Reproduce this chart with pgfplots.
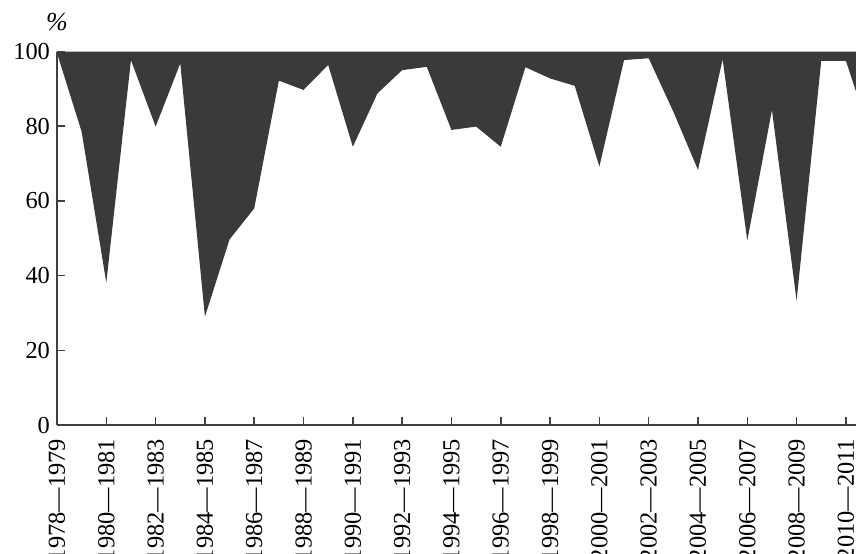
\documentclass[border=0pt]{standalone}
\usepackage{fontspec}
\setmainfont{Liberation Serif}
\usepackage{pgfplots}
\pgfplotsset{compat=1.18}
\definecolor{areagray}{HTML}{3A3A3A}
\definecolor{axisgray}{HTML}{404040}
\begin{document}
\begin{tikzpicture}
\useasboundingbox (-28.5pt,-64pt) rectangle (399.5pt,212.5pt);
\clip (-28.5pt,-64pt) rectangle (399.5pt,212.5pt);
\begin{axis}[
  scale only axis,
  width=399.5pt, height=186.75pt,
  xmin=0, xmax=32.41, ymin=0, ymax=100,
  axis lines*=left,
  axis on top,
  axis line style={axisgray, line width=0.75pt},
  tick style={axisgray, line width=0.75pt},
  tick align=inside,
  major tick length=4pt,
  xtick={0,2,...,32},
  xticklabels={1978---1979,1980---1981,1982---1983,1984---1985,1986---1987,1988---1989,1990---1991,1992---1993,1994---1995,1996---1997,1998---1999,2000---2001,2002---2003,2004---2005,2006---2007,2008---2009,2010---2011},
  xticklabel style={yshift=-3.5pt, rotate=90, anchor=east, font=\fontsize{12.2}{14}\selectfont},
  ytick={0,20,...,100},
  yticklabel style={font=\fontsize{12.2}{14}\selectfont},
  /pgf/number format/assume math mode=true,
]
\addplot[fill=areagray, draw=none] coordinates {
  (0,100) (0,99.6) (1,78.5) (2,38.1) (3,97.7) (4,79.9) (5,96.8) (6,29.0)
  (7,49.7) (8,58.0) (9,92.2) (10,89.7) (11,96.4) (12,74.5) (13,88.8)
  (14,95.0) (15,95.9) (16,79.0) (17,79.9) (18,74.5) (19,95.8) (20,92.8)
  (21,90.8) (22,69.2) (23,97.7) (24,98.2) (25,83.9) (26,68.3) (27,97.9)
  (28,49.4) (29,84.3) (30,33.3) (31,97.5) (32,97.5) (33,77.5) (33,100)
} -- cycle;
\end{axis}
\node[font=\fontsize{13}{15}\selectfont\itshape] at (0pt,201.5pt) {\%};
\end{tikzpicture}
\end{document}
